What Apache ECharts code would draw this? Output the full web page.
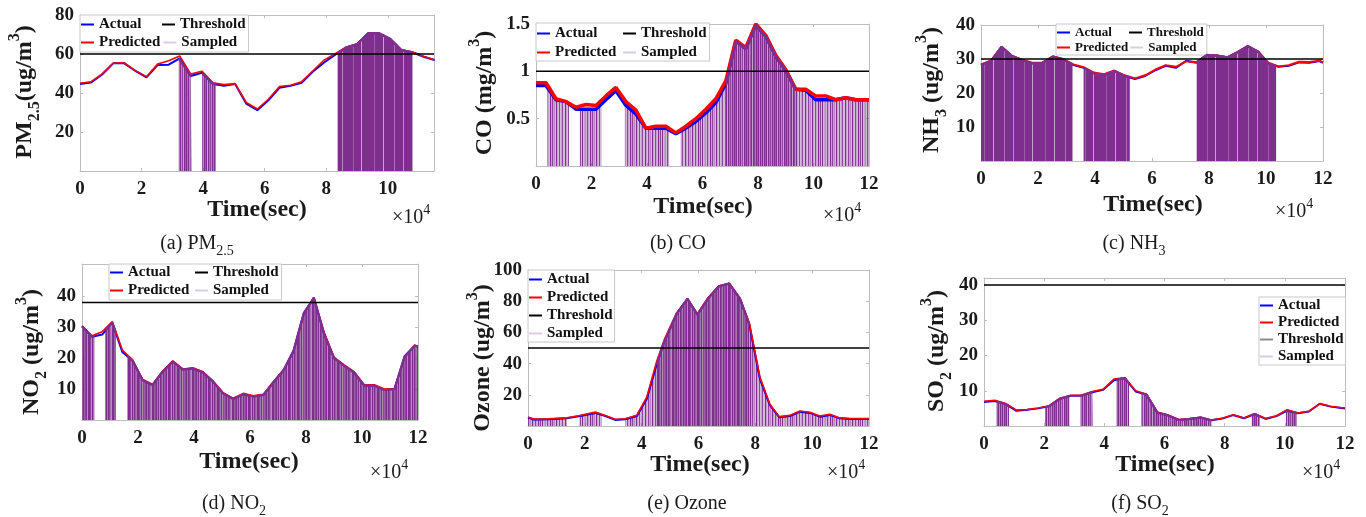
<!DOCTYPE html>
<html><head><meta charset="utf-8">
<script src="https://cdn.jsdelivr.net/npm/echarts@6/dist/echarts.min.js"></script>
<style>html,body{margin:0;padding:0;background:#fff}#c{width:1366px;height:517px}</style>
</head><body><div id="c"></div>
<script>
// ---------------- DATA ----------------
const hourlyT = [0, 3600, 7200, 10800, 14400, 18000, 21600, 25200, 28800, 32400, 36000, 39600, 43200, 46800, 50400, 54000, 57600, 61200, 64800, 68400, 72000, 75600, 79200, 82800, 86400, 90000, 93600, 97200, 100800, 104400, 108000, 111600, 115200, 118800, 120000];
const xTicksPM = [0, 20000, 40000, 60000, 80000, 100000];
const xTicks = [0, 20000, 40000, 60000, 80000, 100000, 120000];

const pmActual = [44.6, 45.4, 49.5, 55.2, 55.2, 51.3, 48.0, 54.3, 54.5, 57.8, 48.7, 50.4, 44.6, 43.7, 44.6, 34.6, 31.2, 36.3, 42.7, 43.7, 45.3, 50.9, 55.5, 59.5, 63.3, 65.0, 70.6, 70.6, 67.7, 62.0, 60.9, 58.6, 56.9];
const pmPredicted = [45.0, 45.8, 49.8, 55.4, 55.4, 51.5, 48.3, 54.8, 56.5, 59.0, 49.7, 51.2, 45.2, 44.3, 44.8, 35.2, 31.8, 36.8, 43.3, 44.0, 45.8, 51.3, 56.8, 60.0, 63.5, 65.2, 70.6, 70.6, 67.8, 62.2, 61.0, 58.8, 56.9];
const pmThreshold = 60;
const pmSampled = [[32100, 57.6, 36200, 48.8], [39700, 50.4, 44100, 44.4], [83700, 60.4, 108000, 60.9]];
const pmYTicks = [20, 40, 60, 80];

const coActual = [0.85, 0.85, 0.70, 0.68, 0.60, 0.60, 0.60, 0.70, 0.795, 0.64, 0.55, 0.40, 0.40, 0.40, 0.34, 0.40, 0.47, 0.56, 0.67, 0.87, 1.32, 1.24, 1.49, 1.37, 1.16, 1.01, 0.81, 0.80, 0.70, 0.70, 0.70, 0.72, 0.70, 0.70, 0.70];
const coPredicted = [0.88, 0.88, 0.71, 0.68, 0.62, 0.65, 0.64, 0.74, 0.83, 0.68, 0.59, 0.40, 0.42, 0.42, 0.35, 0.42, 0.50, 0.60, 0.71, 0.90, 1.33, 1.25, 1.50, 1.38, 1.17, 1.02, 0.81, 0.81, 0.74, 0.74, 0.70, 0.72, 0.70, 0.70, 0.70];
const coThreshold = 1;
const coSampled = [[4100, 0.83, 11900, 0.66], [15800, 0.60, 23600, 0.655], [32000, 0.657, 48000, 0.38], [52100, 0.37, 68400, 0.87], [68400, 0.87, 93600, 0.81], [93600, 0.81, 120000, 0.70]];
const coYTicks = [0.5, 1, 1.5];

const nh3Actual = [28.2, 29.5, 33.6, 30.9, 29.7, 28.7, 28.9, 30.7, 29.9, 28.2, 27.4, 25.8, 25.3, 26.5, 25.0, 24.1, 25.0, 26.7, 28.0, 27.4, 29.5, 29.0, 31.2, 31.0, 30.5, 32.0, 33.8, 32.2, 28.7, 27.7, 28.0, 29.0, 28.9, 29.4, 28.9];
const nh3Predicted = [28.4, 29.6, 33.6, 31.0, 29.8, 28.9, 29.0, 30.8, 30.0, 28.4, 27.6, 26.0, 25.5, 26.6, 25.2, 24.3, 25.2, 26.9, 28.2, 27.7, 29.3, 28.9, 31.2, 31.0, 30.5, 32.0, 33.8, 32.2, 28.9, 27.8, 28.2, 29.2, 29.1, 29.5, 29.0];
const nh3Threshold = 30;
const nh3Sampled = [[0, 28.2, 32100, 28.3], [36000, 27.4, 52200, 24.55], [75600, 29.0, 103600, 27.9]];
const nh3YTicks = [10, 20, 30, 40];

const no2Actual = [30.3, 26.9, 27.6, 31.5, 22.0, 19.2, 12.9, 11.3, 15.6, 18.9, 16.3, 16.6, 15.4, 12.4, 8.6, 6.8, 8.3, 7.6, 8.1, 12.2, 16.1, 22.5, 34.5, 39.5, 28.0, 20.0, 17.6, 15.3, 11.1, 11.1, 9.7, 10.0, 20.5, 24.0, 23.7];
const no2Predicted = [30.3, 27.2, 28.5, 31.8, 22.6, 19.5, 13.2, 11.5, 15.8, 19.1, 16.5, 16.9, 15.6, 12.6, 8.8, 7.0, 8.6, 7.8, 8.3, 12.4, 16.2, 22.0, 34.0, 39.6, 28.5, 20.3, 17.8, 15.6, 11.4, 11.4, 10.0, 10.2, 20.0, 24.2, 23.8];
const no2Threshold = 38;
const no2Sampled = [[0, 30.3, 4400, 27.0], [8300, 29.2, 12100, 28.1], [16100, 20.6, 120000, 23.7]];
const no2YTicks = [10, 20, 30, 40];

const o3T = [0, 2200, 7300, 13700, 17800, 23700, 27200, 30700, 34200, 38300, 41800, 45300, 47900, 52300, 56100, 59600, 63500, 67200, 70800, 74600, 77900, 81600, 85100, 88400, 92200, 95700, 99200, 102700, 106200, 109700, 113500, 120000];
const o3Actual = [5.4, 4.1, 4.3, 4.9, 6.2, 8.4, 6.4, 3.9, 4.3, 6.4, 17.4, 39.7, 53.8, 71.8, 81.5, 71.4, 82.1, 89.6, 91.3, 81.5, 65.0, 30.2, 13.5, 5.6, 6.4, 9.2, 8.4, 6.0, 7.1, 4.9, 4.5, 4.5];
const o3Predicted = [5.6, 4.4, 4.6, 5.2, 6.6, 8.9, 6.8, 4.3, 4.6, 6.9, 18.5, 41.5, 55.0, 72.5, 81.8, 71.8, 82.5, 89.8, 91.5, 82.0, 66.0, 31.5, 14.0, 6.0, 6.8, 9.6, 8.8, 6.4, 7.5, 5.2, 4.8, 4.8];
const o3Threshold = 50;
const o3Sampled = [[0, 5.4, 13700, 4.9], [18100, 6.3, 26000, 7.1], [34200, 4.3, 45300, 39.7], [45300, 39.7, 77900, 65.0], [77900, 65.0, 120000, 4.5]];
const o3YTicks = [20, 40, 60, 80, 100];

const so2Actual = [6.8, 7.1, 6.2, 4.3, 4.6, 5.0, 5.6, 7.7, 8.6, 8.6, 9.6, 10.3, 13.0, 13.6, 9.8, 8.9, 3.8, 3.0, 1.7, 2.0, 2.4, 1.6, 2.1, 3.1, 2.2, 3.4, 2.0, 2.8, 4.4, 3.6, 4.1, 6.3, 5.5, 5.1, 5.0];
const so2Predicted = [7.0, 7.3, 6.4, 4.5, 4.7, 5.1, 5.7, 7.9, 8.7, 8.7, 9.8, 10.4, 13.3, 13.7, 10.0, 9.0, 4.0, 3.1, 1.8, 2.1, 2.5, 1.7, 2.2, 3.2, 2.3, 3.5, 2.1, 2.9, 4.6, 3.7, 4.2, 6.3, 5.6, 5.2, 5.1];
const so2Threshold = 40;
const so2Sampled = [[4200, 6.95, 8300, 5.6], [20300, 5.4, 28400, 8.5], [32100, 8.6, 36100, 9.6], [44100, 13.15, 48200, 12.1], [52200, 9.35, 75700, 1.6], [89000, 3.07, 91700, 2.7], [100400, 4.2, 103900, 3.7]];
const so2YTicks = [10, 20, 30, 40];

// ---------------- STYLE / LAYOUT ----------------
const F = 'Liberation Serif';
const PURPLE = '#7E2F8E';
const AX = '#bdbdbd';

function makePattern(levels) {
  const c = document.createElement('canvas');
  c.width = levels.length; c.height = 8;
  const ctx = c.getContext('2d');
  for (let i = 0; i < levels.length; i++) {
    const a = parseInt(levels[i], 10) / 9;
    ctx.fillStyle = 'rgba(126,47,142,' + a.toFixed(3) + ')';
    ctx.fillRect(i, 0, 1, 8);
  }
  return { image: c, repeat: 'repeat' };
}
const PAT = {
  dense: makePattern('9999999979999999949999999999699999999599999999997999999949999'),
  dark: makePattern('9869789599859697699869587896986599789695'),
  medium: makePattern('9695979496859697949695849796957949869795'),
  light: makePattern('3483394384539438439483934538439484539438')
};

const PLOTS = [
  { t: hourlyT.slice(0, pmActual.length), actual: pmActual, pred: pmPredicted, th: pmThreshold, sampled: pmSampled,
    dens: ['medium', 'medium', 'dense'], yTicks: pmYTicks, xTicks: xTicksPM,
    grid: [80, 15, 354, 156], xMax: 115000, yMax: 80, lw: [2, 1.6],
    yName: '{m|PM}{s|2.5}{m|(ug/m}{p|3}{m|)}', yNameXY: [25, 92], timeXY: [257, 210], x10XY: [392, 218],
    cap: '{m|(a) PM}{s|2.5}', capXY: [197, 244],
    legend: { left: 80, top: 15, orient: 'h', pad: [2, 3, 2, 1], gap: 3, c1w: 60, fs: 15, lh: 15 } },
  { t: hourlyT, actual: coActual, pred: coPredicted, th: coThreshold, sampled: coSampled,
    dens: ['light', 'light', 'light', 'light', 'medium', 'light'], yTicks: coYTicks, xTicks: xTicks,
    grid: [536, 24, 333, 142], xMax: 120000, yMax: 1.5, lw: [3.5, 3.5],
    yName: '{m|CO (mg/m}{p|3}{m|)}', yNameXY: [485, 93], timeXY: [703, 207], x10XY: [823, 216],
    cap: '{m|(b) CO}', capXY: [678, 244],
    legend: { left: 536, top: 23, orient: 'h', pad: [3, 3, 1, 1], gap: 4, c1w: 64, fs: 15, lh: 15 } },
  { t: hourlyT, actual: nh3Actual, pred: nh3Predicted, th: nh3Threshold, sampled: nh3Sampled,
    dens: ['dense', 'dense', 'dense'], yTicks: nh3YTicks, xTicks: xTicks,
    grid: [981, 25, 342, 136], xMax: 120000, yMax: 40, lw: [2, 2],
    yName: '{m|NH}{s|3}{m| (ug/m}{p|3}{m|)}', yNameXY: [932, 90], timeXY: [1153, 205], x10XY: [1275, 212],
    cap: '{m|(c) NH}{s|3}', capXY: [1134, 244],
    legend: { left: 1056, top: 24, orient: 'h', pad: [2, 3, 1, 1], gap: 2, c1w: 52, fs: 13, lh: 13 } },
  { t: hourlyT, actual: no2Actual, pred: no2Predicted, th: no2Threshold, sampled: no2Sampled,
    dens: ['dark', 'dark', 'dark'], yTicks: no2YTicks, xTicks: xTicks,
    grid: [82, 264, 336, 156], xMax: 120000, yMax: 50.4, lw: [2, 1.6],
    yName: '{m|NO}{s|2}{m| (ug/m}{p|3}{m|)}', yNameXY: [32, 352], timeXY: [249, 462], x10XY: [370, 473],
    cap: '{m|(d) NO}{s|2}', capXY: [234, 504],
    legend: { left: 109, top: 264, orient: 'h', pad: [1, 3, 2, 1], gap: 3, c1w: 64, fs: 15, lh: 15 } },
  { t: o3T, actual: o3Actual, pred: o3Predicted, th: o3Threshold, sampled: o3Sampled,
    dens: ['light', 'light', 'light', 'dark', 'light'], yTicks: o3YTicks, xTicks: xTicks,
    grid: [528, 270, 341, 156], xMax: 120000, yMax: 100, lw: [2, 1.6],
    yName: '{m|Ozone (ug/m}{p|3}{m|)}', yNameXY: [483, 358], timeXY: [700, 465], x10XY: [827, 473],
    cap: '{m|(e) Ozone}', capXY: [687, 504],
    legend: { left: 528, top: 270, orient: 'v', pad: [2, 2, 1, 1], gap: 3, fs: 15, lh: 15 } },
  { t: hourlyT, actual: so2Actual, pred: so2Predicted, th: so2Threshold, sampled: so2Sampled,
    dens: ['medium', 'medium', 'medium', 'medium', 'medium', 'medium', 'medium'], yTicks: so2YTicks, xTicks: xTicks,
    grid: [984, 278, 361, 148], xMax: 120000, yMax: 42, lw: [2, 1.6],
    yName: '{m|SO}{s|2}{m| (ug/m}{p|3}{m|)}', yNameXY: [937, 351], timeXY: [1165, 465], x10XY: [1302, 473],
    cap: '{m|(f) SO}{s|2}', capXY: [1140, 504],
    legend: { left: 1259, top: 297, orient: 'v', pad: [1, 2, 1, 1], gap: 2, fs: 15, lh: 15, thGray: true } }
];

// ---------------- BUILD ----------------
function lineData(t, v) { return t.map((x, i) => [x, v[i]]); }
function segData(seg, t, v) {
  const [t0, y0, t1, y1] = seg;
  const pts = [[t0, y0]];
  t.forEach((x, i) => { if (x > t0 && x < t1) pts.push([x, v[i]]); });
  pts.push([t1, y1]);
  return pts;
}

const grid = [], xAxis = [], yAxis = [], series = [], legend = [], graphic = [];
const tickFont = { fontFamily: F, fontWeight: 'bold', fontSize: 19, color: '#1a1a1a' };
const ynameRich = {
  m: { fontFamily: F, fontWeight: 'bold', fontSize: 24, lineHeight: 36, fill: '#1a1a1a' },
  s: { fontFamily: F, fontWeight: 'bold', fontSize: 16, lineHeight: 16, verticalAlign: 'bottom', fill: '#1a1a1a' },
  p: { fontFamily: F, fontWeight: 'bold', fontSize: 16, lineHeight: 16, verticalAlign: 'top', fill: '#1a1a1a' }
};
const capRich = {
  m: { fontFamily: F, fontSize: 20, lineHeight: 28, fill: '#1a1a1a' },
  s: { fontFamily: F, fontSize: 14, lineHeight: 14, verticalAlign: 'bottom', fill: '#1a1a1a' }
};
const x10Rich = {
  m: { fontFamily: F, fontSize: 20, lineHeight: 30, fill: '#1a1a1a' },
  p: { fontFamily: F, fontSize: 14, lineHeight: 14, verticalAlign: 'top', fill: '#1a1a1a' }
};

PLOTS.forEach((P, g) => {
  const [l, t, w, h] = P.grid;
  grid.push({ left: l, top: t, width: w, height: h, containLabel: false, show: false });
  const xb = 2 * g;
  const baseX = {
    gridIndex: g, type: 'value', min: 0, max: P.xMax,
    axisLine: { show: true, onZero: false, lineStyle: { color: AX, width: 1 } },
    axisTick: { show: true, inside: true, length: 3, lineStyle: { color: AX }, customValues: P.xTicks },
    splitLine: { show: false }
  };
  xAxis.push(Object.assign({}, baseX, { position: 'bottom',
    axisLabel: Object.assign({ customValues: P.xTicks, margin: 9, formatter: v => String(v / 10000) }, tickFont) }));
  xAxis.push(Object.assign({}, baseX, { position: 'top', axisLabel: { show: false } }));
  const baseY = {
    gridIndex: g, type: 'value', min: 0, max: P.yMax,
    axisLine: { show: true, onZero: false, lineStyle: { color: AX, width: 1 } },
    axisTick: { show: true, inside: true, length: 3, lineStyle: { color: AX }, customValues: P.yTicks },
    splitLine: { show: false }
  };
  yAxis.push(Object.assign({}, baseY, { position: 'left',
    axisLabel: Object.assign({ customValues: P.yTicks, margin: 6 }, tickFont) }));
  yAxis.push(Object.assign({}, baseY, { position: 'right', axisLabel: { show: false } }));

  const common = { type: 'line', xAxisIndex: xb, yAxisIndex: xb, silent: true, animation: false };
  series.push(Object.assign({}, common, { name: 'Actual', data: lineData(P.t, P.actual), symbol: 'none',
    lineStyle: { color: '#0000ff', width: P.lw[0] }, itemStyle: { color: '#0000ff' }, z: 2 }));
  series.push(Object.assign({}, common, { name: 'Predicted', data: lineData(P.t, P.pred), symbol: 'none',
    lineStyle: { color: '#ff0000', width: P.lw[1] }, itemStyle: { color: '#ff0000' }, z: 3 }));
  P.sampled.forEach((seg, k) => {
    const d = P.dens[k];
    series.push(Object.assign({}, common, { name: 'Sampled', data: segData(seg, P.t, P.actual),
      symbol: 'none',
      lineStyle: { color: PURPLE, width: d === 'light' ? 1.5 : 2.2 }, itemStyle: { color: '#d8c4e0' },
      areaStyle: { color: PAT[d], opacity: 1 }, z: d === 'light' ? 1 : 4 }));
  });
  series.push(Object.assign({}, common, { name: 'Threshold', data: [[0, P.th], [P.xMax, P.th]], symbol: 'none',
    lineStyle: { color: '#000', width: 1.5 }, itemStyle: { color: '#000' }, z: 5 }));

  const L = P.legend;
  const lf = { fontFamily: F, fontWeight: 'bold', fontSize: L.fs, lineHeight: L.lh, color: '#111' };
  const items = {
    Actual: { name: 'Actual', itemStyle: { color: '#0000ff' } },
    Predicted: { name: 'Predicted', itemStyle: { color: '#ff0000' } },
    Threshold: { name: 'Threshold', itemStyle: { color: L.thGray ? '#8c8c8c' : '#000' } },
    Sampled: { name: 'Sampled', itemStyle: { color: '#dccbe4' } }
  };
  const order = L.orient === 'h' ? ['Actual', 'Threshold', 'Predicted', 'Sampled'] : ['Actual', 'Predicted', 'Threshold', 'Sampled'];
  const lg = {
    left: L.left, top: L.top, orient: L.orient === 'h' ? 'horizontal' : 'vertical',
    padding: L.pad, itemGap: L.gap, itemWidth: 13, itemHeight: 2, icon: 'rect',
    backgroundColor: '#fff', borderColor: '#c8c8c8', borderWidth: 1, borderRadius: 0,
    selectedMode: false, data: order.map(n => items[n]), textStyle: Object.assign({}, lf)
  };
  if (L.orient === 'h') {
    lg.width = 200;
    lg.formatter = n => (n === 'Actual' || n === 'Predicted') ? '{c1|' + n + '}' : '{c2|' + n + '}';
    lg.textStyle.rich = { c1: Object.assign({ width: L.c1w }, lf), c2: Object.assign({}, lf) };
  }
  legend.push(lg);

  graphic.push({ type: 'text', x: P.yNameXY[0], y: P.yNameXY[1], rotation: Math.PI / 2, silent: true,
    style: { text: P.yName, rich: ynameRich, align: 'center', verticalAlign: 'middle' } });
  graphic.push({ type: 'text', x: P.timeXY[0], y: P.timeXY[1], silent: true,
    style: { text: 'Time(sec)', fontFamily: F, fontWeight: 'bold', fontSize: 24, fill: '#1a1a1a', align: 'center', verticalAlign: 'middle' } });
  graphic.push({ type: 'text', x: P.x10XY[0], y: P.x10XY[1], silent: true,
    style: { text: '{m|×10}{p|4}', rich: x10Rich, align: 'left', verticalAlign: 'middle' } });
  graphic.push({ type: 'text', x: P.capXY[0], y: P.capXY[1], silent: true,
    style: { text: P.cap, rich: capRich, align: 'center', verticalAlign: 'middle' } });
});

const chart = echarts.init(document.getElementById('c'), null, { renderer: 'canvas' });
chart.setOption({ animation: false, backgroundColor: '#fff', grid, xAxis, yAxis, series, legend, graphic });
</script>
</body></html>
